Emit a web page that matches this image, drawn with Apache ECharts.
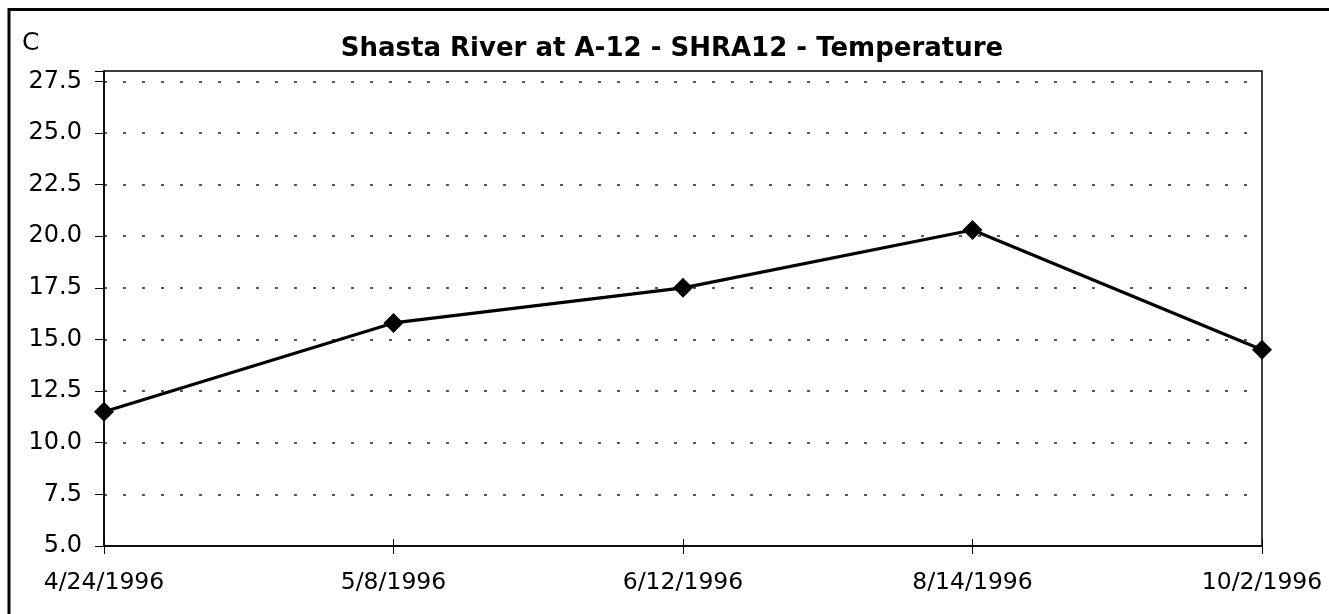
<!DOCTYPE html>
<html>
<head>
<meta charset="utf-8">
<script src="https://cdn.jsdelivr.net/npm/echarts@6/dist/echarts.min.js"></script>
<style>
  html, body { margin: 0; padding: 0; background: #fff; }
  #chart_temp { width: 1329px; height: 614px; }
</style>
</head>
<body>
<div id="chart_temp"></div>
<script>
  // sample dates and water temperature (C)
  const dates = ['4/24/1996', '5/8/1996', '6/12/1996', '8/14/1996', '10/2/1996']
  const temps = [11.5, 15.8, 17.5, 20.3, 14.5]

  const chart = echarts.init(document.getElementById('chart_temp'))

  const font = 'DejaVu Sans, Liberation Sans, sans-serif'

  const option = {
    animation: false,
    title: {
      text: 'Shasta River at A-12 - SHRA12 - Temperature',
      left: 667,
      textAlign: 'center',
      top: 31,
      textStyle: {
        color: '#000',
        fontSize: 26,
        fontWeight: 'bold',
        fontFamily: font
      }
    },
    graphic: [{
      type: 'polyline',
      shape: { points: [[9, 614], [9, 9.5], [1329, 9.5]] },
      style: { stroke: '#000', lineWidth: 3, fill: null }
    }, {
      type: 'text',
      x: 22,
      y: 43,
      style: { text: 'C', fontSize: 25, fontFamily: font, fill: '#000', verticalAlign: 'middle' }
    }],
    grid: {
      left: 104,
      right: 67,
      top: 71,
      bottom: 68,
      show: true,
      borderColor: '#000',
      borderWidth: 1.5
    },
    xAxis: [{
      type: 'category',
      data: dates,
      boundaryGap: false,
      axisLine: { lineStyle: { color: '#000', width: 1.5 } },
      axisTick: { show: true, length: 8, lineStyle: { color: '#000' } },
      axisLabel: {
        color: '#000',
        fontSize: 23.5,
        fontFamily: font,
        margin: 25
      },
      splitLine: { show: false }
    }, {
      // inner half of the crossing ticks
      type: 'category',
      data: dates,
      position: 'bottom',
      boundaryGap: false,
      axisLine: { show: false },
      axisTick: { show: true, inside: true, length: 7, lineStyle: { color: '#000' } },
      axisLabel: { show: false },
      splitLine: { show: false }
    }],
    yAxis: [{
      type: 'value',
      min: 5,
      max: 28,
      interval: 2.5,
      axisLine: { show: true, lineStyle: { color: '#000', width: 1.5 } },
      axisTick: { show: true, length: 9, lineStyle: { color: '#000' } },
      axisLabel: {
        color: '#000',
        fontSize: 24,
        fontFamily: font,
        margin: 22,
        formatter: function (v) {
          return (v * 10) % 25 === 0 ? v.toFixed(1) : ''
        }
      },
      splitLine: {
        showMinLine: false,
        showMaxLine: false,
        lineStyle: { type: [3, 16], color: '#222', width: 1.5 }
      }
    }],
    series: [{
      name: 'Temperature',
      type: 'line',
      data: temps,
      symbol: 'diamond',
      symbolSize: 20,
      lineStyle: { color: '#000', width: 3.2 },
      itemStyle: { color: '#000' }
    }]
  }

  chart.setOption(option, true)
</script>
</body>
</html>
